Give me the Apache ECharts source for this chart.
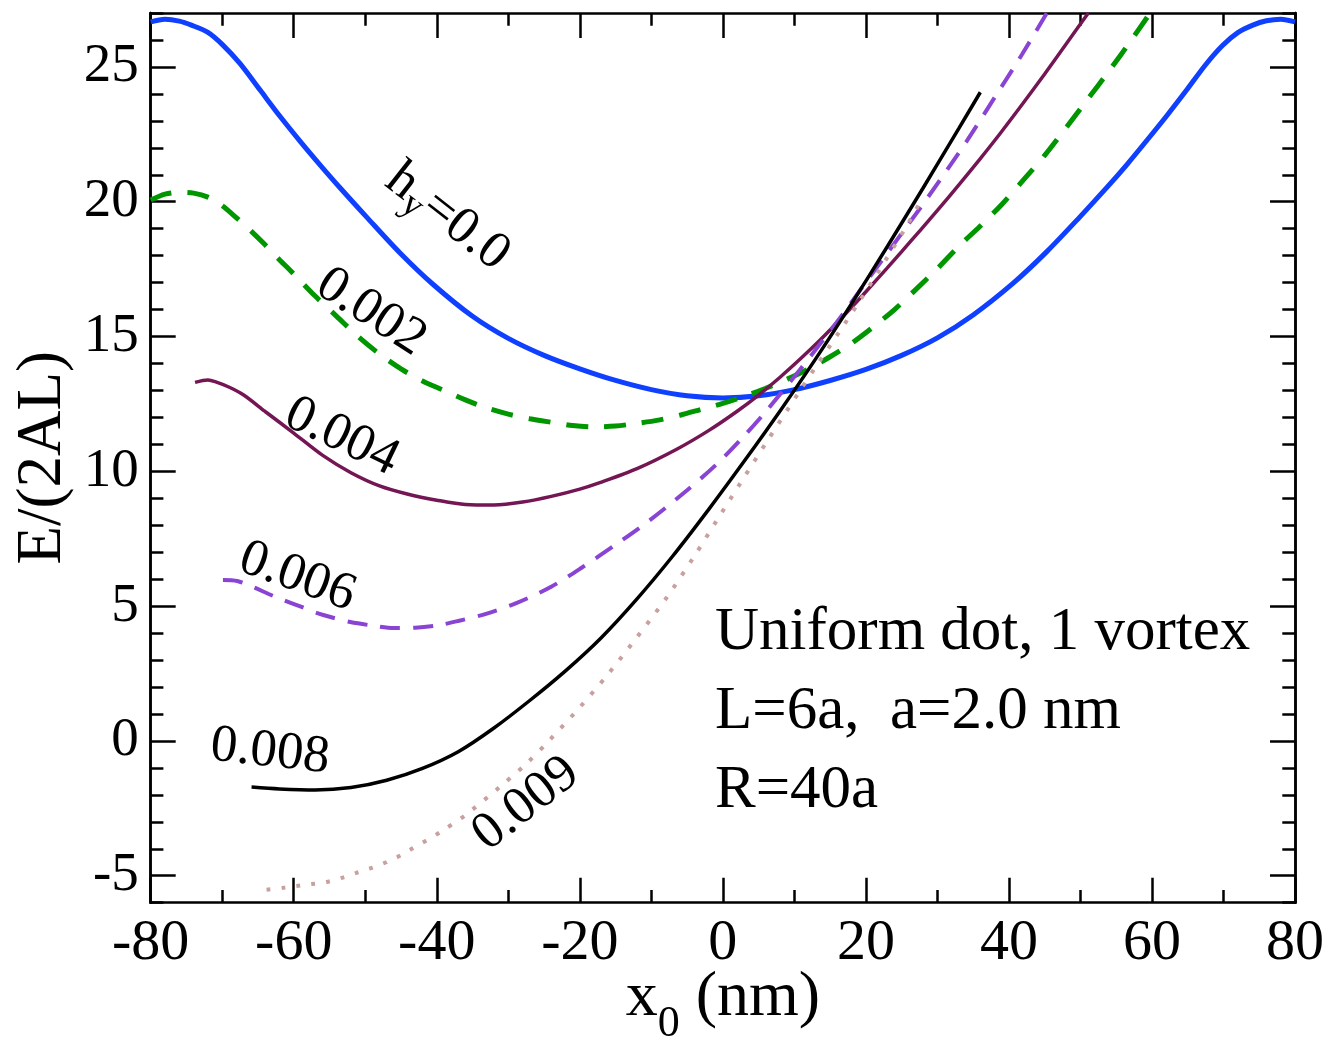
<!DOCTYPE html>
<html lang="en">
<head>
<meta charset="UTF-8">
<title>Uniform dot, 1 vortex</title>
<script src="https://cdn.jsdelivr.net/npm/echarts@6/dist/echarts.min.js"></script>
<style>
  html, body { margin: 0; padding: 0; background: #fff; }
</style>
</head>
<body>
<div id="main" style="width: 1330px;height: 1040px"></div>
<script>
// curves: [x0 (nm), E/(2AL)]
var hy000 = [[-80,26.67],[-78,26.77],[-76,26.70],[-74.3,26.55],[-72,26.28],[-69.9,25.81],[-67.5,25.12],[-64.7,24.14],[-61.9,23.16],[-59.1,22.24],[-56.3,21.36],[-53.5,20.51],[-49.8,19.43],[-45.1,18.09],[-40.5,16.93],[-35,15.75],[-30,14.93],[-25,14.30],[-20,13.80],[-15,13.37],[-10,13.03],[-5,12.80],[0,12.72],[5,12.80],[10,13.03],[15,13.37],[20,13.78],[25,14.30],[30,14.95],[35,15.80],[40.6,16.98],[45.3,18.15],[49.9,19.43],[53.7,20.53],[56.5,21.38],[59.3,22.28],[62.1,23.20],[64.9,24.16],[67.5,25.08],[69.9,25.80],[72,26.27],[74.1,26.55],[76,26.71],[78,26.77],[80,26.67]];
var hy002 = [[-80,20.06],[-78,20.28],[-76,20.35],[-74,20.32],[-72,20.17],[-70,19.85],[-68,19.40],[-66,18.92],[-64,18.40],[-62,17.85],[-60,17.32],[-57,16.50],[-54,15.75],[-51,15.00],[-48,14.35],[-45,13.80],[-42,13.35],[-39,13.00],[-36,12.65],[-33,12.35],[-30,12.12],[-27,11.95],[-24,11.82],[-21,11.70],[-18,11.65],[-15,11.68],[-12,11.78],[-9,11.90],[-6,12.08],[-3,12.30],[0,12.52],[3,12.78],[6,13.08],[9,13.42],[12,13.80],[15,14.25],[18,14.75],[21,15.35],[24,16.00],[27,16.75],[30,17.52],[33,18.35],[36,19.10],[39,19.90],[42,20.80],[45,21.72],[48,22.75],[51,23.80],[54,24.85],[57,25.95],[60,27.10]];
var hy004 = [[-73.8,13.30],[-72,13.39],[-71,13.33],[-69,13.12],[-67,12.83],[-64,12.22],[-60,11.42],[-56,10.60],[-52,9.95],[-48,9.46],[-44,9.15],[-40,8.93],[-36,8.77],[-32,8.75],[-28,8.86],[-24,9.07],[-20,9.34],[-17.2,9.58],[-12,10.10],[-6.45,10.82],[-2,11.51],[2,12.23],[5,12.83],[8,13.49],[11,14.21],[13.6,14.87],[16,15.52],[18.2,16.14],[20,16.66],[22.9,17.52],[25,18.15],[27.6,18.94],[30,19.68],[33.2,20.69],[36,21.60],[38.8,22.54],[42,23.66],[45,24.74],[48,25.85],[51.1,27.00]];
var hy006 = [[-69.9,5.97],[-67.9,5.93],[-65.7,5.71],[-63.5,5.45],[-61.5,5.23],[-59,4.98],[-56.8,4.75],[-54.5,4.57],[-52.1,4.41],[-49,4.28],[-46,4.19],[-43,4.20],[-40,4.28],[-37,4.45],[-33,4.72],[-28.8,5.12],[-24,5.72],[-19.6,6.45],[-15,7.28],[-10.2,8.19],[-5,9.30],[-0.8,10.28],[3,11.32],[6.1,12.25],[10.8,13.78],[15.9,15.52],[19.2,16.72],[24.8,18.75],[28.5,20.10],[34.1,22.25],[38.2,23.95],[41.8,25.45],[45.3,27.00]];
var hy008 = [[-65.9,-1.71],[-62,-1.78],[-57,-1.82],[-52,-1.73],[-47,-1.46],[-42,-1.02],[-37,-0.40],[-32,0.48],[-27,1.50],[-22,2.60],[-17,3.83],[-12,5.27],[-7,6.86],[-2,8.58],[3,10.38],[8,12.24],[13,14.18],[18,16.22],[23,18.34],[28,20.51],[33,22.72],[36,24.06]];
var hy009 = [[-63.8,-5.52],[-61.5,-5.45],[-59.6,-5.38],[-57.5,-5.31],[-55.4,-5.23],[-53.3,-5.08],[-51.2,-4.89],[-49,-4.70],[-47,-4.49],[-45,-4.24],[-43.3,-3.97],[-41.5,-3.70],[-39.5,-3.38],[-36,-2.75],[-31.2,-1.71],[-27.5,-0.85],[-24.2,0.04],[-20,1.25],[-16.2,2.43],[-12,3.85],[-7.8,5.34],[-4,6.85],[-0.8,8.20],[2.5,9.58],[6.1,11.08],[10.8,13.00],[13.1,13.92],[16.4,15.22],[19.2,16.35],[22.9,17.90],[25.7,19.10],[28,20.18]];

var yMajor = [-5, 0, 5, 10, 15, 20, 25];
var yMinor = [-6,-4,-3,-2,-1,1,2,3,4,6,7,8,9,11,12,13,14,16,17,18,19,21,22,23,24,26,27];

var FONT = "'Liberation Serif', 'DejaVu Serif', serif";

var myChart = echarts.init(document.getElementById('main'));

function xAxisOf(pos, showLabel) {
    return {
        type: 'value', position: pos, min: -80, max: 80, interval: 20,
        axisLine: { show: true, onZero: false, lineStyle: { color: '#000', width: 2.5 } },
        axisTick: { show: true, inside: true, length: 25, lineStyle: { color: '#000', width: 2.5 } },
        minorTick: { show: true, splitNumber: 2, length: 12.7, lineStyle: { color: '#000', width: 2.5 } },
        splitLine: { show: false },
        axisLabel: { show: showLabel, color: '#000', fontFamily: FONT, fontSize: 58, margin: 12 }
    };
}

function yAxisOf(pos, ticks, len, showLabel) {
    return {
        type: 'value', position: pos, min: -6, max: 27,
        axisLine: { show: true, onZero: false, lineStyle: { color: '#000', width: 2.5 } },
        axisTick: { show: true, inside: true, length: len, customValues: ticks, lineStyle: { color: '#000', width: 2.5 } },
        splitLine: { show: false },
        axisLabel: { show: showLabel, customValues: ticks, color: '#000', fontFamily: FONT, fontSize: 55, margin: 12 }
    };
}

var xBottom = xAxisOf('bottom', true);
xBottom.name = '{a|x}{b|0}{a| (nm)}';
xBottom.nameLocation = 'middle';
xBottom.nameGap = 46;
xBottom.nameMoveOverlap = false;
xBottom.nameTextStyle = {
    color: '#000',
    rich: {
        a: { fontFamily: FONT, fontSize: 64, color: '#000' },
        b: { fontFamily: FONT, fontSize: 44, color: '#000', padding: [54, 0, 0, 0] }
    }
};

var yLeft = yAxisOf('left', yMajor, 25, true);
yLeft.name = 'E/(2AL)';
yLeft.nameLocation = 'middle';
yLeft.nameGap = 76;
yLeft.nameMoveOverlap = false;
yLeft.nameTextStyle = { color: '#000', fontFamily: FONT, fontSize: 63 };

function line(data, color, width, type) {
    return {
        type: 'line', data: data, showSymbol: false, smooth: 0.3,
        xAxisIndex: 0, yAxisIndex: 0, animation: false,
        lineStyle: { color: color, width: width, type: type, cap: 'butt' }
    };
}

var option = {
    backgroundColor: '#fff',
    animation: false,
    grid: { left: 150.7, right: 35, top: 13, bottom: 137.3, outerBoundsMode: 'none' },
    xAxis: [xBottom, xAxisOf('top', false)],
    yAxis: [yLeft, yAxisOf('left', yMinor, 12.7, false), yAxisOf('right', yMajor, 25, false), yAxisOf('right', yMinor, 12.7, false)],
    series: [
        line(hy000, '#1040ff', 5, 'solid'),
        line(hy002, '#009600', 5, [22, 16]),
        line(hy004, '#731653', 3.5, 'solid'),
        line(hy006, '#8a44d4', 4, [20, 13]),
        line(hy008, '#000000', 3.5, 'solid'),
        line(hy009, '#c8a0a0', 4, [4, 11])
    ]
};
myChart.setOption(option);

// curve labels, anchored in data coordinates
var curveLabels = [
    { text: '{m|h}{s|y}{m|=0.0}', at: [-38.5, 19.43], angle: -38 },
    { text: '{m|0.002}', at: [-49.2, 15.9], angle: -33 },
    { text: '{m|0.004}', at: [-53.3, 11.27], angle: -25.7 },
    { text: '{m|0.006}', at: [-59.5, 6.08], angle: -20 },
    { text: '{m|0.008}', at: [-63.3, -0.41], angle: -6.3 },
    { text: '{m|0.009}', at: [-27.5, -2.34], angle: 38 }
];

var graphics = curveLabels.map(function (lb) {
    var p = myChart.convertToPixel({ xAxisIndex: 0, yAxisIndex: 0 }, lb.at);
    return {
        type: 'text', x: p[0], y: p[1], rotation: lb.angle * Math.PI / 180, z: 10,
        style: {
            text: lb.text, align: 'center', verticalAlign: 'middle', fill: '#000',
            rich: {
                m: { fontFamily: FONT, fontSize: 53, fill: '#000' },
                s: { fontFamily: FONT, fontSize: 37, fill: '#000', padding: [26, 0, 0, 0] }
            }
        }
    };
});

var infoLines = ['Uniform dot, 1 vortex', 'L=6a,  a=2.0 nm', 'R=40a'];
infoLines.forEach(function (t, i) {
    graphics.push({
        type: 'text', left: 715, top: 602 + i * 79, z: 10,
        style: { text: t, fill: '#000', font: '61px ' + FONT }
    });
});

myChart.setOption({ graphic: graphics });
</script>
</body>
</html>
